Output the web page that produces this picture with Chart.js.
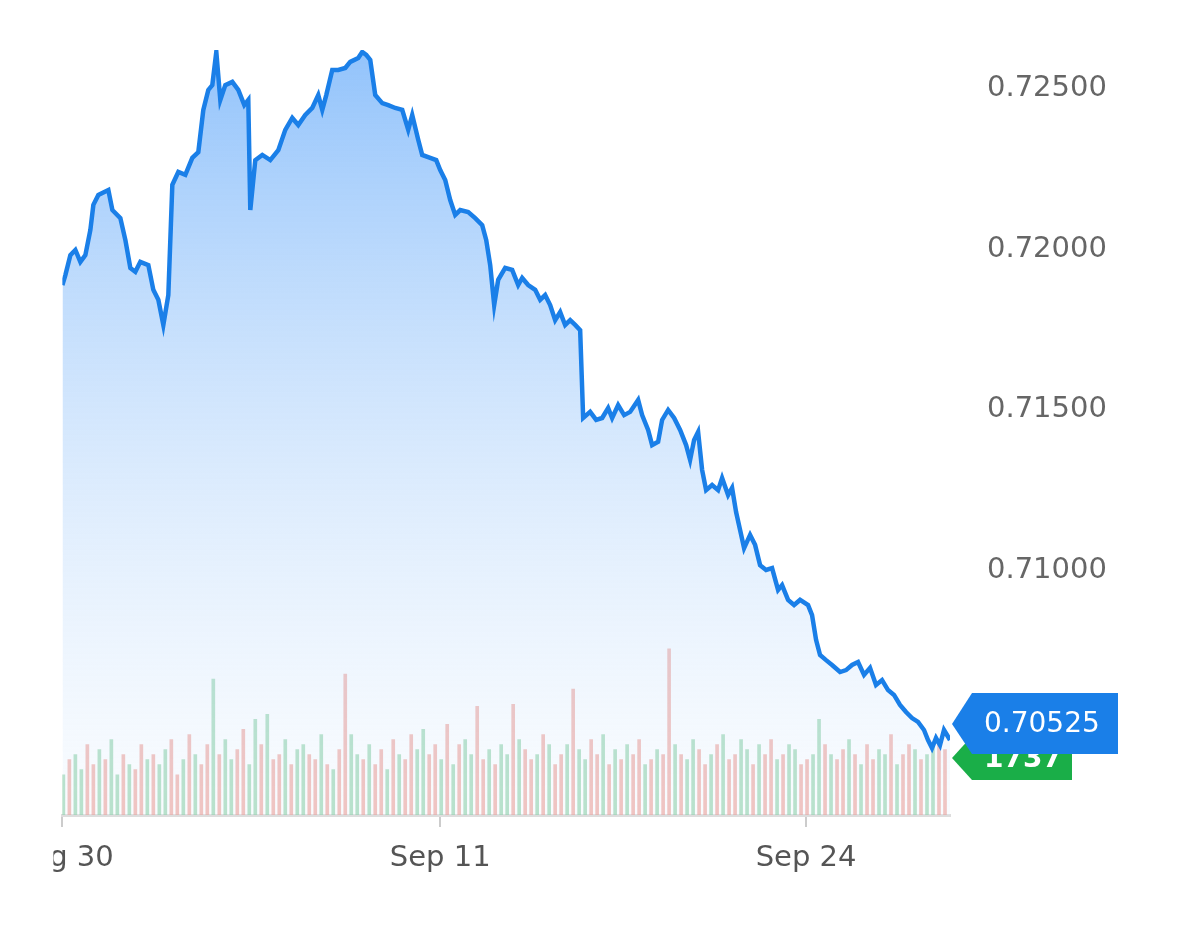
<!DOCTYPE html>
<html><head><meta charset="utf-8">
<script src="https://cdn.jsdelivr.net/npm/chart.js@4"></script>
<style>html,body{margin:0;padding:0;background:#fff;overflow:hidden}
#wrap{position:absolute;left:-3px;top:0;width:1182px;height:929px}</style>
</head><body><div id="wrap"><canvas id="c"></canvas></div>
<script>
const times=[0,3,8,13,18,23,28,31,36,46,50,58,63,68,73,78,86,91,96,101,106,110,116,123,130,136,141,146,150,154,158,163,170,176,182,186,188,193,200,208,216,223,230,236,243,250,256,260,264,270,276,283,288,296,300,304,308,313,320,326,333,340,346,350,356,360,368,374,378,383,388,393,398,406,413,420,424,428,432,436,443,450,456,460,466,473,478,483,488,493,498,503,508,513,518,521,528,534,540,546,550,556,562,568,576,580,586,590,596,600,606,612,618,624,628,632,636,640,644,650,656,660,666,670,674,678,682,688,693,698,704,710,716,720,726,732,738,746,750,754,758,764,770,778,784,790,796,802,808,814,820,826,832,838,844,850,856,862,866,870,874,878,882,888];
const prices=[0.71888,0.71919,0.71981,0.71997,0.71960,0.71981,0.72059,0.72137,0.72168,0.72183,0.72121,0.72096,0.72028,0.71941,0.71929,0.71960,0.71950,0.71873,0.71842,0.71764,0.71857,0.72199,0.72239,0.72230,0.72283,0.72301,0.72432,0.72494,0.72509,0.72612,0.72463,0.72509,0.72519,0.72494,0.72447,0.72463,0.72121,0.72276,0.72292,0.72276,0.72307,0.72370,0.72407,0.72385,0.72416,0.72438,0.72478,0.72432,0.72478,0.72556,0.72556,0.72562,0.72581,0.72593,0.72612,0.72603,0.72587,0.72478,0.72453,0.72447,0.72438,0.72432,0.72370,0.72416,0.72339,0.72292,0.72283,0.72276,0.72245,0.72214,0.72152,0.72106,0.72121,0.72115,0.72096,0.72074,0.72028,0.71950,0.71826,0.71904,0.71941,0.71935,0.71888,0.71910,0.71888,0.71873,0.71842,0.71857,0.71826,0.71779,0.71804,0.71764,0.71779,0.71764,0.71748,0.71475,0.71494,0.71469,0.71475,0.71506,0.71475,0.71515,0.71484,0.71494,0.71531,0.71484,0.71438,0.71391,0.71401,0.71469,0.71500,0.71475,0.71438,0.71391,0.71345,0.71407,0.71432,0.71314,0.71251,0.71267,0.71251,0.71289,0.71236,0.71258,0.71183,0.71127,0.71071,0.71112,0.71081,0.71018,0.71003,0.71009,0.70941,0.70956,0.70910,0.70894,0.70910,0.70894,0.70863,0.70786,0.70739,0.70723,0.70708,0.70686,0.70692,0.70708,0.70717,0.70677,0.70699,0.70646,0.70661,0.70630,0.70615,0.70584,0.70562,0.70543,0.70531,0.70506,0.70475,0.70450,0.70481,0.70459,0.70506,0.70475];
const volumes=[40,55,60,45,70,50,65,55,75,40,60,50,45,70,55,60,50,65,75,40,55,80,60,50,70,135,60,75,55,65,85,50,95,70,100,55,60,75,50,65,70,60,55,80,50,45,65,140,80,60,55,70,50,65,45,75,60,55,80,65,85,60,70,55,90,50,70,75,60,108,55,65,50,70,60,110,75,65,55,60,80,70,50,60,70,125,65,55,75,60,80,50,65,55,70,60,75,50,55,65,60,165,70,60,55,75,65,50,60,70,80,55,60,75,65,50,70,60,75,55,60,70,65,50,55,60,95,70,60,55,65,75,60,50,70,55,65,60,80,50,60,70,65,55,60,70,75,65];
const volUp=[1,0,1,1,0,0,1,0,1,1,0,1,0,0,1,0,1,1,0,0,1,0,1,0,0,1,0,1,1,0,0,1,1,0,1,0,0,1,0,1,1,0,0,1,0,1,0,0,1,1,0,1,0,0,1,0,1,0,0,1,1,0,0,1,0,1,0,1,1,0,0,1,0,1,1,0,1,0,0,1,0,1,0,0,1,0,1,1,0,0,1,0,1,0,1,0,0,1,0,1,0,0,1,0,1,1,0,0,1,0,1,0,0,1,1,0,1,0,0,1,0,1,1,0,0,1,1,0,1,0,0,1,0,1,0,0,1,1,0,1,0,0,1,0,1,1,0,0];
const volTimes=volumes.map((v,i)=>i*6+1);
const tickTimes=[0,378,744];
const tickLabels=['Aug 30','Sep 11','Sep 24'];
const priceTicks=[0.710,0.715,0.720,0.725];
const lastPrice='0.70525', lastVol='1737';

const ctx=document.getElementById('c');
const tagPlugin={id:'tag',afterDraw(ch){
  const c=ch.ctx, ys=ch.scales.y, a=ch.chartArea, x0=a.right+2;
  c.save();
  c.fillStyle='#fff';c.fillRect(0,a.bottom+14,a.left-9,80);
  const y=ys.getPixelForValue(0.70525), yg=y+34;
  c.fillStyle='#1aae48';
  c.beginPath();c.moveTo(x0,yg);c.lineTo(x0+20,yg-22);c.lineTo(x0+120,yg-22);c.lineTo(x0+120,yg+22);c.lineTo(x0+20,yg+22);c.closePath();c.fill();
  c.fillStyle='#fff';c.font='bold 28px "DejaVu Sans"';c.textBaseline='middle';c.fillText(lastVol,x0+32,yg+2);
  c.fillStyle='#1a7fe8';
  c.beginPath();c.moveTo(x0,y);c.lineTo(x0+20,y-31);c.lineTo(x0+166,y-31);c.lineTo(x0+166,y+30);c.lineTo(x0+20,y+30);c.closePath();c.fill();
  c.fillStyle='#fff';c.font='28px "DejaVu Sans"';c.fillText(lastPrice,x0+32,y+1);
  c.restore();
}};
new Chart(ctx,{
  data:{datasets:[
    {type:'bar',yAxisID:'v',data:volTimes.map((t,i)=>({x:t,y:volumes[i]})),
     backgroundColor:volUp.map(u=>u?'rgba(120,200,150,0.6)':'rgba(235,140,130,0.6)'),barThickness:3,order:2},
    {type:'line',yAxisID:'y',data:times.map((t,i)=>({x:t,y:prices[i]})),borderColor:'#1a7fe8',borderWidth:4.5,pointRadius:0,tension:0,order:1,
     fill:'start',backgroundColor:(c)=>{const a=c.chart.chartArea;if(!a)return 'rgba(120,180,250,0.5)';const g=c.chart.ctx.createLinearGradient(0,a.top,0,a.bottom);g.addColorStop(0,'rgba(110,175,250,0.75)');g.addColorStop(1,'rgba(225,238,252,0.2)');return g;}}
  ]},
  options:{responsive:true,maintainAspectRatio:false,animation:false,
    layout:{padding:{top:50,left:0,right:0,bottom:0}},
    plugins:{legend:{display:false},tooltip:{enabled:false}},
    scales:{
      x:{type:'linear',min:0,max:888,offset:false,
        afterBuildTicks:(s)=>{s.ticks=tickTimes.map(v=>({value:v}));},
        ticks:{callback:(v)=>tickLabels[tickTimes.indexOf(v)]||'',color:'#555',font:{size:29,family:'"DejaVu Sans"'},padding:14,maxRotation:0,autoSkip:false},
        grid:{offset:false,drawOnChartArea:false,drawTicks:true,tickLength:12,color:'#ccc',lineWidth:2},
        border:{color:'#ddd',width:3},
        afterFit:(s)=>{s.height=114;}},
      y:{position:'right',min:0.70242,max:0.72618,
        afterBuildTicks:(s)=>{s.ticks=priceTicks.map(v=>({value:v}));},
        ticks:{callback:(v)=>v.toFixed(5),color:'#666',font:{size:29,family:'"DejaVu Sans"'},padding:29},
        grid:{display:false},border:{display:false},
        afterFit:(s)=>{s.width=229;}},
      v:{display:false,min:0,max:760}
    }},
  plugins:[tagPlugin]
});
</script></body></html>
